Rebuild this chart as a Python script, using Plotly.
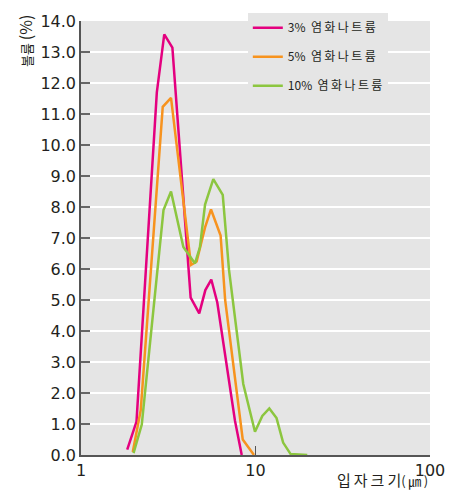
import plotly.graph_objects as go

# Particle size distribution (volume %) for three NaCl concentrations
series_names = ["3% 염화나트륨", "5% 염화나트륨", "10% 염화나트륨"]
series_colors = ["#E4007F", "#F7931E", "#8CC63F"]

size_3 = [1.84, 2.08, 2.72, 3.00, 3.34, 4.25, 4.76, 5.16, 5.58, 6.04, 7.63, 8.34]
vol_3 = [0.17, 1.08, 11.70, 13.57, 13.14, 5.08, 4.57, 5.32, 5.66, 4.92, 1.10, 0.00]

size_5 = [1.98, 2.20, 2.94, 3.28, 4.27, 4.60, 5.14, 5.56, 6.31, 6.70, 8.45, 9.80]
vol_5 = [0.10, 1.45, 11.23, 11.52, 6.13, 6.24, 7.34, 7.92, 7.08, 5.00, 0.50, 0.00]

size_10 = [2.00, 2.23, 2.97, 3.28, 3.86, 4.50, 4.80, 5.14, 5.73, 6.49, 7.05, 8.51,
           9.93, 10.94, 12.00, 13.20, 14.40, 15.90, 19.80]
vol_10 = [0.06, 0.98, 7.90, 8.50, 6.71, 6.18, 6.70, 8.08, 8.90, 8.39, 5.97, 2.29,
          0.75, 1.26, 1.50, 1.19, 0.40, 0.03, 0.00]

x_ticks = [1, 10, 100]
y_ticks = [i * 1.0 for i in range(15)]
y_tick_text = [f"{v:.1f}" for v in y_ticks]

THIN = "\u2009"


def spaced(label):
    head, tail = label.split(" ")
    return head + "  " + THIN.join(tail)


fig = go.Figure()
for i, (xs, ys) in enumerate([(size_3, vol_3), (size_5, vol_5), (size_10, vol_10)]):
    fig.add_trace(go.Scatter(
        x=xs, y=ys, mode="lines", name=spaced(series_names[i]),
        line=dict(color=series_colors[i], width=2.5),
        legendgroup=f"g{i}",
    ))

BG = "#E5E5E5"
fig.update_layout(
    width=457, height=492,
    margin=dict(l=81, r=27, t=12, b=36),
    paper_bgcolor="white",
    plot_bgcolor=BG,
    font=dict(family="DejaVu Sans", size=16, color="#231F20"),
    showlegend=True,
    legend=dict(
        x=0.478, y=1.018, xanchor="left", yanchor="top",
        bgcolor=BG, borderwidth=0,
        font=dict(family="Noto Sans CJK KR", size=12, color="#231F20"),
        tracegroupgap=10,
    ),
    xaxis=dict(
        type="log", range=[0, 2],
        tickmode="array", tickvals=x_ticks, ticktext=[str(v) for v in x_ticks],
        ticks="inside", ticklen=9, tickwidth=1.2, tickcolor="#555",
        showline=True, linecolor="#555", linewidth=1.5,
        showgrid=False, zeroline=False,
        tickfont=dict(family="DejaVu Sans", size=16),
    ),
    yaxis=dict(
        range=[0, 14],
        tickmode="array", tickvals=y_ticks, ticktext=y_tick_text,
        ticks="inside", ticklen=9, tickwidth=1.5, tickcolor="#666",
        showline=True, linecolor="#555", linewidth=1.5,
        showgrid=True, gridcolor="white", gridwidth=2,
        zeroline=False,
        tickfont=dict(family="DejaVu Sans", size=16),
    ),
)

# Axis titles
fig.add_annotation(
    xref="paper", yref="paper", x=-0.162, y=0.955,
    text="볼륨 <span style='font-size:16px'>(%)</span>", textangle=-90, showarrow=False,
    xanchor="center", yanchor="middle",
    font=dict(family="Noto Sans CJK KR", size=13, color="#231F20"),
)
fig.add_annotation(
    xref="paper", yref="paper", x=1.0, y=-0.0563,
    text=(THIN.join("입자크기")
          + "<span style='font-size:13px'>(" + THIN + "㎛" + THIN + ")</span>"),
    showarrow=False, xanchor="right", yanchor="middle",
    font=dict(family="Noto Sans CJK KR", size=15, color="#231F20"),
)

fig.write_html("out.html")
